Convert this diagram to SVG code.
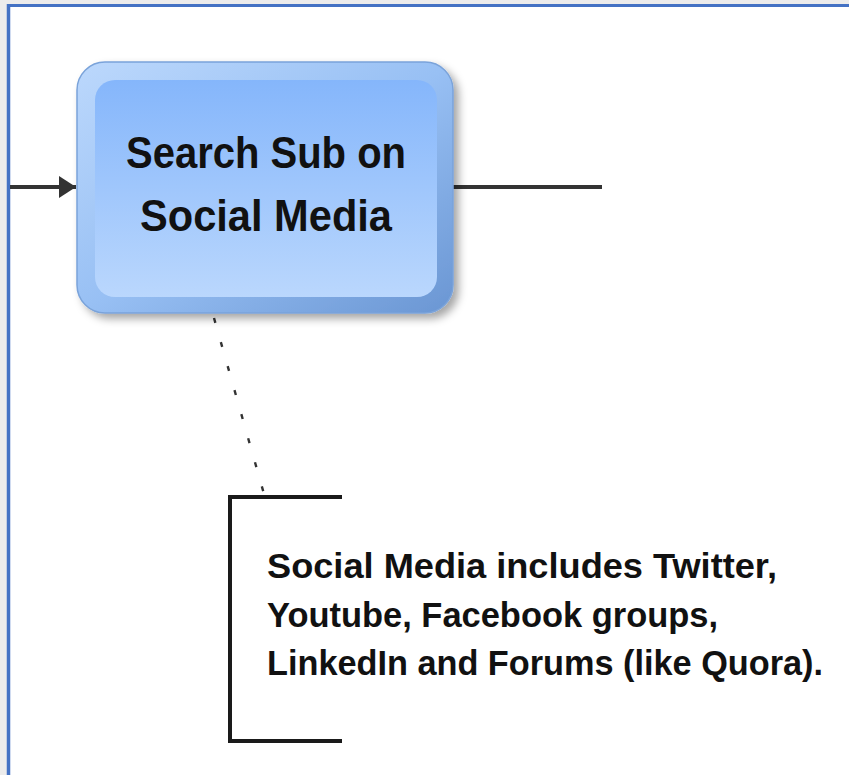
<svg xmlns="http://www.w3.org/2000/svg" width="849" height="775" viewBox="0 0 849 775">
  <defs>
    <style>
      .conn { stroke: #333333; stroke-width: 4; fill: none; }
      .dots { stroke: #333333; stroke-width: 2.4; fill: none; stroke-dasharray: 5 20; }
      .bracket { stroke: #1a1a1a; stroke-width: 4; fill: none; stroke-linecap: square; }
      .label { font-family: "Liberation Sans", Arial, sans-serif; font-weight: bold; fill: #111111; }
    </style>
    <linearGradient id="bevel" x1="0" y1="0" x2="1" y2="1">
      <stop offset="0" stop-color="#bcd8fc"/>
      <stop offset="0.5" stop-color="#98c0f4"/>
      <stop offset="1" stop-color="#6a96d3"/>
    </linearGradient>
    <linearGradient id="face" x1="0" y1="0" x2="0" y2="1">
      <stop offset="0" stop-color="#85b6fb"/>
      <stop offset="1" stop-color="#bad7fd"/>
    </linearGradient>
    <filter id="shadow" x="-10%" y="-10%" width="125%" height="125%">
      <feDropShadow dx="5" dy="5" stdDeviation="4" flood-color="#000000" flood-opacity="0.35"/>
    </filter>
    <marker id="arrow" markerWidth="18" markerHeight="24" refX="17" refY="12" orient="auto" markerUnits="userSpaceOnUse">
      <path d="M0,1 L17,12 L0,23 Z" fill="#333333"/>
    </marker>
  </defs>

  <!-- page backdrop and sheet -->
  <rect x="0" y="0" width="849" height="775" fill="#ececec"/>
  <rect x="8" y="5" width="841" height="770" fill="#ffffff"/>
  <line x1="7" y1="5.5" x2="849" y2="5.5" stroke="#4472c4" stroke-width="3"/>
  <line x1="8.5" y1="4" x2="8.5" y2="775" stroke="#4472c4" stroke-width="3.5"/>

  <!-- connectors -->
  <g id="connectors">
    <line class="conn" x1="10" y1="187" x2="76" y2="187" marker-end="url(#arrow)"/>
    <line class="conn" x1="453" y1="187" x2="602" y2="187"/>
    <line class="dots" x1="214" y1="318" x2="264" y2="494"/>
  </g>

  <!-- process step -->
  <g id="node-search">
    <rect x="77" y="62" width="376" height="251" rx="28" fill="url(#bevel)" stroke="#7aa3da" stroke-width="1.5" filter="url(#shadow)"/>
    <rect x="95" y="80" width="342" height="217" rx="20" fill="url(#face)"/>
    <text class="label" x="126" y="168" font-size="44" textLength="280" lengthAdjust="spacingAndGlyphs">Search Sub on</text>
    <text class="label" x="140" y="231" font-size="44" textLength="252" lengthAdjust="spacingAndGlyphs">Social Media</text>
  </g>

  <!-- annotation -->
  <g id="note-social">
    <path class="bracket" d="M340,497 L230,497 L230,741 L340,741"/>
    <text class="label" x="267" y="578" font-size="35" textLength="510" lengthAdjust="spacingAndGlyphs">Social Media includes Twitter,</text>
    <text class="label" x="267" y="627" font-size="35" textLength="451" lengthAdjust="spacingAndGlyphs">Youtube, Facebook groups,</text>
    <text class="label" x="267" y="675" font-size="35" textLength="556" lengthAdjust="spacingAndGlyphs">LinkedIn and Forums (like Quora).</text>
  </g>
</svg>
